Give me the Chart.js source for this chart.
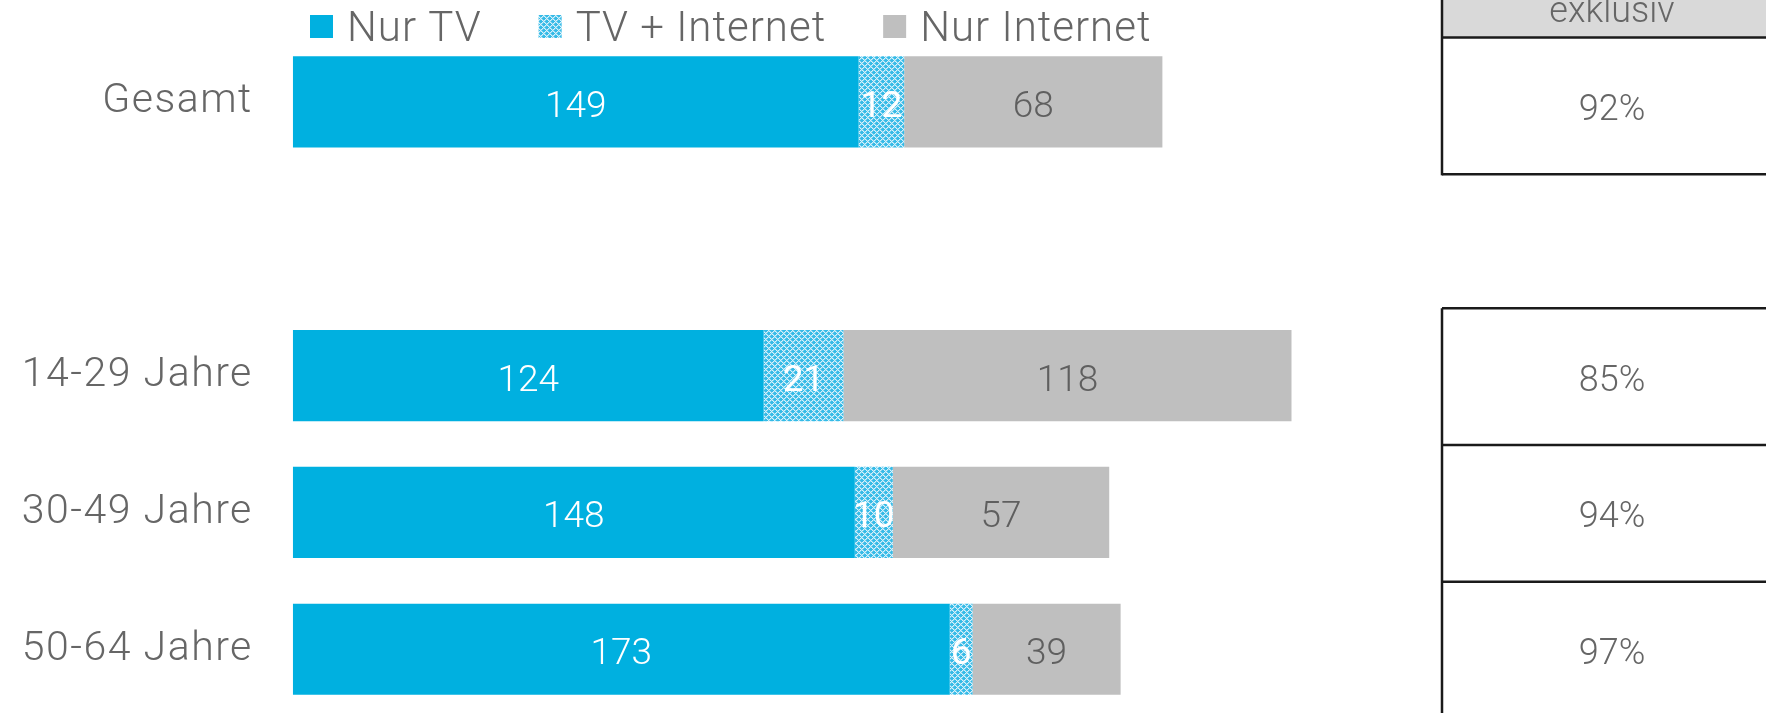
<!DOCTYPE html>
<html lang="de">
<head>
<meta charset="utf-8">
<title>Nur TV / TV + Internet / Nur Internet</title>
<script src="https://cdn.jsdelivr.net/npm/chart.js@4.4.1/dist/chart.umd.min.js"></script>
<style>
  html, body { margin: 0; padding: 0; background: #fff; overflow: hidden; }
  #wrap { position: relative; width: 1766px; height: 713px; overflow: hidden; }
</style>
</head>
<body>
<div id="wrap"><canvas id="chart" width="1766" height="730"></canvas></div>
<script>
// data
const categories = ["Gesamt", "", "14-29 Jahre", "30-49 Jahre", "50-64 Jahre"];
const seriesNames = ["Nur TV", "TV + Internet", "Nur Internet"];
const nurTV = [149, null, 124, 148, 173];
const tvUndInternet = [12, null, 21, 10, 6];
const nurInternet = [68, null, 118, 57, 39];
const tableHeader = "exklusiv";
const exklusiv = ["92%", null, "85%", "94%", "97%"];

const BLUE = "#00b0e0";
const GREY = "#bfbfbf";
const TEXT = "#666666";
const FONT = "Roboto, 'Liberation Sans', sans-serif";

// little lattice pattern for the hatched series
function makeHatch() {
  const c = document.createElement("canvas");
  c.width = 6; c.height = 6;
  const g = c.getContext("2d");
  g.fillStyle = "#36bbe7";
  g.fillRect(0, 0, 6, 6);
  for (let y = 0; y < 6; y++) {
    for (let x = 0; x < 6; x++) {
      if ((x + y) % 6 === 0 || (x - y + 6) % 6 === 0) {
        g.fillStyle = "#d8f1fa";
        g.fillRect(x, y, 1, 1);
      } else if ((x + y) % 6 === 1 || (x - y + 6) % 6 === 1) {
        g.fillStyle = "#82d3f0";
        g.fillRect(x, y, 1, 1);
      }
    }
  }
  return g.createPattern(c, "repeat");
}
const hatch = makeHatch();

// letter spacing for the axis labels (drawn by Chart.js)
const spacing = {
  id: "spacing",
  beforeDraw(chart) { chart.ctx.letterSpacing = "1.5px"; }
};

// values inside the bars
const valueLabels = {
  id: "valueLabels",
  afterDatasetsDraw(chart) {
    const ctx = chart.ctx;
    ctx.save();
    ctx.letterSpacing = "0px";
    ctx.textAlign = "center";
    ctx.textBaseline = "alphabetic";
    chart.data.datasets.forEach((ds, i) => {
      const meta = chart.getDatasetMeta(i);
      meta.data.forEach((bar, j) => {
        const v = ds.data[j];
        if (v == null) return;
        const p = bar.getProps(["x", "y", "base"], true);
        ctx.font = ds.labelWeight + " 37px " + FONT;
        ctx.fillStyle = ds.labelColor;
        ctx.fillText(String(v), (p.x + p.base) / 2, p.y + 15);
      });
    });
    ctx.restore();
  }
};

// legend row at the top
const topLegend = {
  id: "topLegend",
  afterDraw(chart) {
    const ctx = chart.ctx;
    ctx.save();
    ctx.letterSpacing = "1px";
    ctx.font = "300 42px " + FONT;
    ctx.textAlign = "left";
    ctx.textBaseline = "alphabetic";
    let x = 310;
    chart.data.datasets.forEach(ds => {
      ctx.fillStyle = ds.backgroundColor;
      ctx.fillRect(x, 15, 23, 23);
      ctx.fillStyle = TEXT;
      ctx.fillText(ds.label, x + 37, 41);
      x += 37 + ctx.measureText(ds.label).width + 57;
    });
    ctx.restore();
  }
};

// "exklusiv" table on the right, rows follow the category slots
const sideTable = {
  id: "sideTable",
  afterDraw(chart) {
    const ctx = chart.ctx;
    const ys = chart.scales.y;
    const left = 1442, right = chart.width + 10, cx = 1612;
    const step = ys.getPixelForValue(1) - ys.getPixelForValue(0);
    ctx.save();
    ctx.letterSpacing = "0px";
    ctx.strokeStyle = "#1a1a1a";
    ctx.lineWidth = 2.5;

    // split rows into blocks of consecutive values
    const blocks = [];
    let cur = null;
    exklusiv.forEach((v, i) => {
      if (v == null) { cur = null; return; }
      if (!cur) { cur = []; blocks.push(cur); }
      cur.push(i);
    });

    blocks.forEach((rows, b) => {
      const shift = b === 0 ? 4 : 1;
      const top = ys.getPixelForValue(rows[0]) - step / 2 + shift;
      const bottom = ys.getPixelForValue(rows[rows.length - 1]) + step / 2 + shift;
      let lineTop = top;
      if (b === 0) {
        ctx.fillStyle = "#d9d9d9";
        ctx.fillRect(left, -20, right - left, top + 20);
        ctx.fillStyle = TEXT;
        ctx.font = "300 36px " + FONT;
        ctx.textAlign = "center";
        ctx.fillText(tableHeader, cx, top - 16);
        lineTop = -20;
      }
      // horizontal rules
      for (let k = 0; k <= rows.length; k++) {
        const yy = top + k * step;
        ctx.beginPath();
        ctx.moveTo(left, yy);
        ctx.lineTo(right, yy);
        ctx.stroke();
      }
      ctx.beginPath();
      ctx.moveTo(left, lineTop);
      ctx.lineTo(left, bottom + 1);
      ctx.stroke();
      // values
      ctx.fillStyle = TEXT;
      ctx.font = "300 36px " + FONT;
      ctx.textAlign = "center";
      rows.forEach((r, k) => {
        const c = top + k * step + step / 2;
        ctx.fillText(exklusiv[r], cx, c + 14);
      });
    });
    ctx.restore();
  }
};

new Chart(document.getElementById("chart"), {
  type: "bar",
  data: {
    labels: categories,
    datasets: [
      { label: seriesNames[0], data: nurTV, backgroundColor: BLUE, labelColor: "#ffffff", labelWeight: "300" },
      { label: seriesNames[1], data: tvUndInternet, backgroundColor: hatch, labelColor: "#ffffff", labelWeight: "400" },
      { label: seriesNames[2], data: nurInternet, backgroundColor: GREY, labelColor: "#5f5f5f", labelWeight: "300" }
    ]
  },
  options: {
    indexAxis: "y",
    responsive: false,
    animation: false,
    events: [],
    datasets: { bar: { barPercentage: 0.666, categoryPercentage: 1, borderWidth: 0 } },
    layout: { padding: { left: 0, right: 334, top: 33.5, bottom: 12.3 } },
    scales: {
      x: { stacked: true, min: 0, max: 300, display: false },
      y: {
        stacked: true,
        grid: { display: false, drawTicks: false },
        border: { display: false },
        ticks: { padding: 40, color: TEXT, font: { family: FONT, size: 41, weight: "300" } },
        afterFit(scale) {
          scale.width = 292.8;
          scale.paddingTop = 0;
          scale.paddingBottom = 0;
        }
      }
    },
    plugins: { legend: { display: false }, tooltip: { enabled: false } }
  },
  plugins: [spacing, valueLabels, topLegend, sideTable]
});
</script>
</body>
</html>
